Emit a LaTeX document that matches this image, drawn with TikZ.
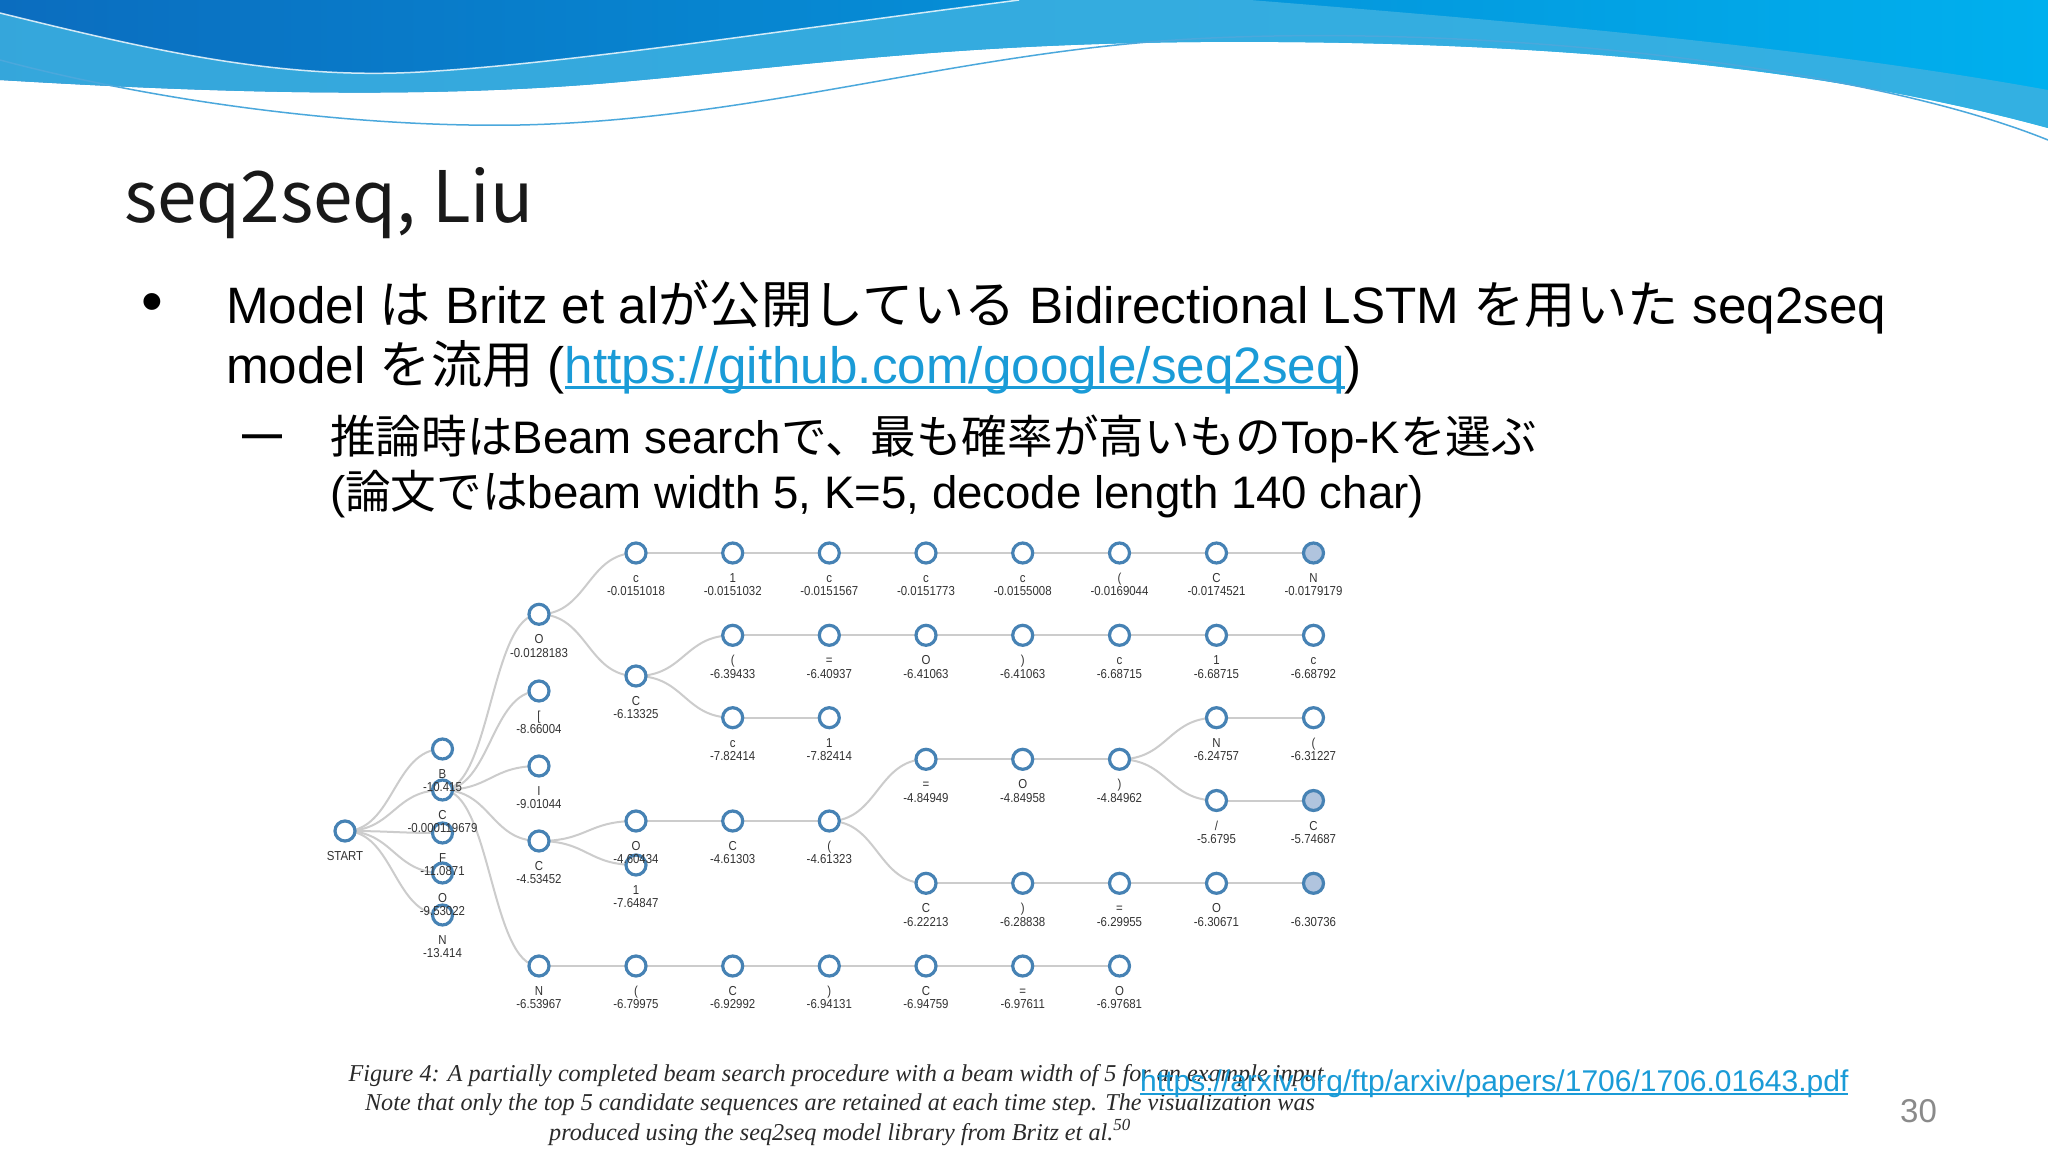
\documentclass[tikz,border=0pt]{standalone}
\usepackage{fontspec}
\setmainfont{Liberation Sans}
\newfontfamily\jpfont{Noto Sans CJK JP}
\newfontfamily\capfont{Liberation Serif}
\newfontfamily\treefont[FakeStretch=0.88]{Liberation Sans}
\usetikzlibrary{calc}
\pgfdeclarelayer{bglayer}
\pgfdeclarelayer{linklayer}
\pgfdeclarelayer{textlayer}
\pgfsetlayers{bglayer,linklayer,main,textlayer}

\definecolor{nodeblue}{HTML}{4682B4}
\definecolor{nodefill}{HTML}{B0C4DE}
\definecolor{linkgray}{HTML}{CCCCCC}
\definecolor{linkblue}{HTML}{1A9BD7}
\definecolor{labgray}{HTML}{333333}
\definecolor{capgray}{HTML}{2A2A2A}
\definecolor{pagegray}{HTML}{8A8A8A}
\definecolor{bandark}{HTML}{0B6DBF}
\definecolor{banlight}{HTML}{00B0EE}
\definecolor{bandcol}{HTML}{3DB1E1}
\definecolor{thinblue}{HTML}{4BA8DC}

\newcommand\myul[1]{\setbox0\hbox{#1}\leavevmode\rlap{\copy0}\rule[-0.12em]{\wd0}{0.055em}}

\tikzset{
  tnode/.style={circle, draw=nodeblue, line width=3.2pt, fill=white, minimum size=20pt, inner sep=0pt},
  tlab/.style={anchor=base, inner sep=0pt, font=\treefont\fontsize{13}{14}\selectfont, text=labgray},
  link/.style={draw=linkgray, line width=2pt},
  body/.style={anchor=base west, inner sep=0pt, font=\fontsize{51.2}{60}\selectfont, text=black},
  subtext/.style={anchor=base west, inner sep=0pt, font=\fontsize{45.6}{54}\selectfont, text=black},
  captext/.style={anchor=base, inner sep=0pt, font=\capfont\itshape\fontsize{24.2}{28}\selectfont, text=capgray},
}

\newcommand\tn[6][]{%
  \node[tnode,#1] (#2) at (#3,#4) {};
  \begin{pgfonlayer}{textlayer}
  \node[tlab] (#2c) at (#3,{#4+29.6}) {#5};
  \node[tlab] (#2v) at (#3,{#4+42.7}) {#6};
  \end{pgfonlayer}}

\newcommand\lk[2]{\draw[link] let \p1=(#1.center), \p2=(#2.center) in (\p1) .. controls ({(\x1+\x2)/2},\y1) and ({(\x1+\x2)/2},\y2) .. (\p2);}

\begin{document}
\begin{tikzpicture}[x=1pt,y=-1pt]
\useasboundingbox (0,0) rectangle (2048,1152);
\begin{pgfonlayer}{bglayer}
\fill[white] (0,0) rectangle (2048,1152);
% ---- top banner ----
\shade[left color=bandark, right color=banlight]
  (0,0) -- (2048,0) -- (2048,128)
  .. controls (1800,60) and (1500,40) .. (1200,42)
  .. controls (950,44) and (800,66) .. (620,82)
  .. controls (420,100) and (200,92) .. (0,80) -- cycle;
\fill[bandcol, opacity=.85]
  (0,13) .. controls (150,50) and (280,80) .. (420,72)
  .. controls (560,64) and (750,35) .. (1019,0) -- (1250,0)
  .. controls (1500,20) and (1800,45) .. (2048,90) -- (2048,128)
  .. controls (1800,60) and (1500,40) .. (1200,42)
  .. controls (950,44) and (800,66) .. (620,82)
  .. controls (420,100) and (200,92) .. (0,80) -- cycle;
\draw[white, line width=1.5pt, opacity=.8]
  (0,13) .. controls (150,50) and (280,80) .. (420,72)
  .. controls (560,64) and (750,35) .. (1019,0);
\draw[thinblue, line width=1.5pt]
  (0,60) .. controls (150,100) and (350,128) .. (520,125)
  .. controls (750,120) and (950,55) .. (1175,40)
  .. controls (1450,22) and (1850,60) .. (2048,140);
\end{pgfonlayer}

% ---- texts ----
\node[anchor=base west, inner sep=0pt, font=\jpfont\fontsize{71}{84}\selectfont, text=black!90] (title) at (124,222) {seq2seq, Liu};
\node[anchor=base, inner sep=0pt, font=\fontsize{62}{70}\selectfont] (bul) at (152,322) {•};
\node[body] (l1) at (226,323) {Model {\jpfont は} Britz et al{\jpfont が公開している} Bidirectional LSTM {\jpfont を用いた} seq2seq};
\node[body] (l2) at (226,383) {model {\jpfont を流用} ({\color{linkblue}\myul{https://github.com/google/seq2seq}})};
\node[anchor=base west, inner sep=0pt, font=\bfseries\fontsize{40}{48}\selectfont] (dash) at (242,447) {—};
\node[subtext] (s1) at (330,453) {{\jpfont 推論時は}Beam search{\jpfont で、最も確率が高いもの}Top-K{\jpfont を選ぶ}};
\node[subtext] (s2) at (330,508) {({\jpfont 論文では}beam width 5, K=5, decode length 140 char)};

% ---- tree nodes ----
\tn{s}{345}{831}{START}{}
\tn{a1}{442.5}{749}{B}{-10.415}
\tn{a2}{442.5}{790}{C}{-0.000119679}
\tn{a3}{442.5}{833}{F}{-11.0871}
\tn{a4}{442.5}{873}{O}{-9.53022}
\tn{a5}{442.5}{915}{N}{-13.414}
\tn{b1}{539}{614.3}{O}{-0.0128183}
\tn{b2}{539}{691}{[}{-8.66004}
\tn{b3}{539}{766}{I}{-9.01044}
\tn{b4}{539}{841}{C}{-4.53452}
\tn{b5}{539}{966}{N}{-6.53967}
\tn{c1}{636}{553}{c}{-0.0151018}
\tn{c2}{636}{676}{C}{-6.13325}
\tn{c3}{636}{821}{O}{-4.60434}
\tn{c4}{636}{865}{1}{-7.64847}
\tn{c5}{636}{966}{(}{-6.79975}
\tn{d1}{732.7}{553}{1}{-0.0151032}
\tn{d2}{732.7}{635.3}{(}{-6.39433}
\tn{d3}{732.7}{717.7}{c}{-7.82414}
\tn{d4}{732.7}{821}{C}{-4.61303}
\tn{d5}{732.7}{966}{C}{-6.92992}
\tn{e1}{829.3}{553}{c}{-0.0151567}
\tn{e2}{829.3}{635.3}{=}{-6.40937}
\tn{e3}{829.3}{717.7}{1}{-7.82414}
\tn{e4}{829.3}{821}{(}{-4.61323}
\tn{e5}{829.3}{966}{)}{-6.94131}
\tn{f1}{926}{553}{c}{-0.0151773}
\tn{f2}{926}{635.3}{O}{-6.41063}
\tn{f3}{926}{759.3}{=}{-4.84949}
\tn{f4}{926}{883.3}{C}{-6.22213}
\tn{f5}{926}{966}{C}{-6.94759}
\tn{g1}{1022.7}{553}{c}{-0.0155008}
\tn{g2}{1022.7}{635.3}{)}{-6.41063}
\tn{g3}{1022.7}{759.3}{O}{-4.84958}
\tn{g4}{1022.7}{883.3}{)}{-6.28838}
\tn{g5}{1022.7}{966}{=}{-6.97611}
\tn{h1}{1119.5}{553}{(}{-0.0169044}
\tn{h2}{1119.5}{635.3}{c}{-6.68715}
\tn{h3}{1119.5}{759.3}{)}{-4.84962}
\tn{h4}{1119.5}{883.3}{=}{-6.29955}
\tn{h5}{1119.5}{966}{O}{-6.97681}
\tn{i1}{1216.5}{553}{C}{-0.0174521}
\tn{i2}{1216.5}{635.3}{1}{-6.68715}
\tn{i3}{1216.5}{717.7}{N}{-6.24757}
\tn{i4}{1216.5}{800.5}{/}{-5.6795}
\tn{i5}{1216.5}{883.3}{O}{-6.30671}
\tn[fill=nodefill]{j1}{1313.5}{553}{N}{-0.0179179}
\tn{j2}{1313.5}{635.3}{c}{-6.68792}
\tn{j3}{1313.5}{717.7}{(}{-6.31227}
\tn[fill=nodefill]{j4}{1313.5}{800.5}{C}{-5.74687}
\tn[fill=nodefill]{j5}{1313.5}{883.3}{}{-6.30736}

% ---- links ----
\begin{pgfonlayer}{linklayer}
\lk{s}{a1}\lk{s}{a2}\lk{s}{a3}\lk{s}{a4}\lk{s}{a5}
\lk{a2}{b1}\lk{a2}{b2}\lk{a2}{b3}\lk{a2}{b4}\lk{a2}{b5}
\lk{b1}{c1}\lk{b1}{c2}\lk{b4}{c3}\lk{b4}{c4}\lk{b5}{c5}
\lk{c1}{d1}\lk{c2}{d2}\lk{c2}{d3}\lk{c3}{d4}\lk{c5}{d5}
\lk{d1}{e1}\lk{d2}{e2}\lk{d3}{e3}\lk{d4}{e4}\lk{d5}{e5}
\lk{e1}{f1}\lk{e2}{f2}\lk{e4}{f3}\lk{e4}{f4}\lk{e5}{f5}
\lk{f1}{g1}\lk{f2}{g2}\lk{f3}{g3}\lk{f4}{g4}\lk{f5}{g5}
\lk{g1}{h1}\lk{g2}{h2}\lk{g3}{h3}\lk{g4}{h4}\lk{g5}{h5}
\lk{h1}{i1}\lk{h2}{i2}\lk{h3}{i3}\lk{h3}{i4}\lk{h4}{i5}
\lk{i1}{j1}\lk{i2}{j2}\lk{i3}{j3}\lk{i4}{j4}\lk{i5}{j5}
\end{pgfonlayer}

% ---- caption, url, page number ----
\node[captext] (cap1) at (836,1081) {Figure 4: A partially completed beam search procedure with a beam width of 5 for an example input};
\node[captext] (cap2) at (840,1110) {Note that only the top 5 candidate sequences are retained at each time step. The visualization was};
\node[captext] (cap3) at (840,1140) {produced using the seq2seq model library from Britz et al.\textsuperscript{50}};
\node[anchor=base west, inner sep=0pt, font=\fontsize{30}{36}\selectfont, text=linkblue] (url) at (1140,1091) {\myul{https://arxiv.org/ftp/arxiv/papers/1706/1706.01643.pdf}};
\node[anchor=base west, inner sep=0pt, font=\fontsize{33}{40}\selectfont, text=pagegray] (pg) at (1900,1122) {30};
\end{tikzpicture}
\end{document}
